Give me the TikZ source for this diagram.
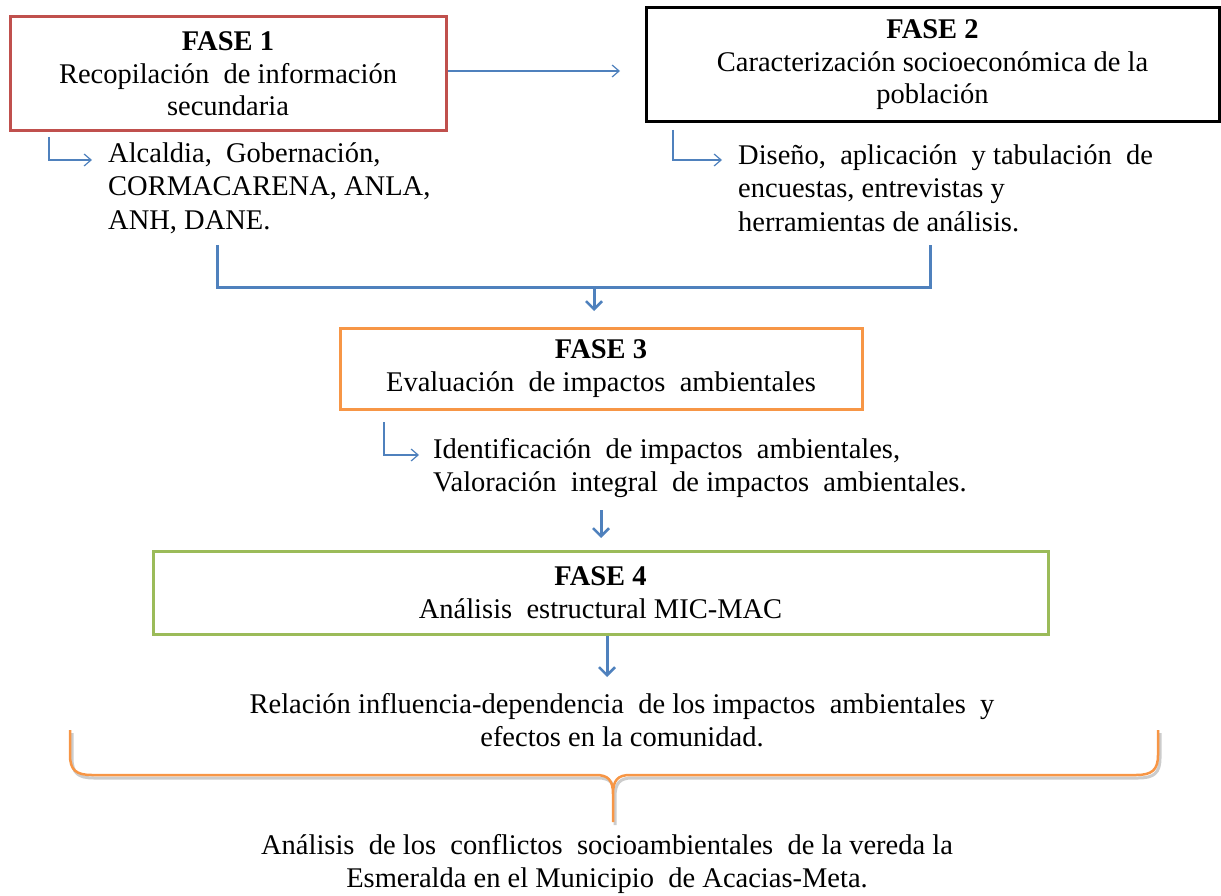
\documentclass[tikz,border=0pt]{standalone}
\usepackage{fontspec}
\setmainfont{Liberation Serif}
\usetikzlibrary{arrows.meta,calc}
\definecolor{ored}{HTML}{C0504D}
\definecolor{oorange}{HTML}{F79646}
\definecolor{ogreen}{HTML}{9BBB59}
\definecolor{oblue}{HTML}{4F81BD}
\tikzset{
  phase/.style={draw, line width=3pt, inner sep=0pt, align=center, font=\fontsize{28.5}{32.5}\selectfont},
  plain/.style={inner sep=0pt, font=\fontsize{28.5}{33.5}\selectfont},
  thinarrow/.style={draw=oblue, line width=1.2pt, -{Straight Barb[length=7pt,width=12pt,line width=1.2pt]}},
  thickline/.style={draw=oblue, line width=3pt},
  thickarrow/.style={draw=oblue, line width=3pt, -{Straight Barb[length=8pt,width=16pt,line width=2.5pt]}},
}
\begin{document}
\begin{tikzpicture}[x=1pt,y=-1pt]
\useasboundingbox (0,0) rectangle (1221,896);
% boxes
\node[phase, draw=ored, minimum width=436pt, minimum height=114pt] (b1) at (228,74) {\textbf{FASE 1}\\Recopilación\ \ de información\\secundaria};
\node[phase, draw=black, minimum width=573pt, minimum height=114pt] (b2) at (932.5,65) {\textbf{FASE 2}\\Caracterización socioeconómica de la\\población};
\node[phase, draw=oorange, minimum width=522pt, minimum height=81pt] (b3) at (601,368.5) {\textbf{FASE 3}\\Evaluación\ \ de impactos\ \ ambientales};
\node[phase, draw=ogreen, minimum width=895pt, minimum height=83pt] (b4) at (600.5,592.5) {\textbf{FASE 4}\\Análisis\ \ estructural MIC-MAC};
% texts
\node[plain, anchor=west, align=left] (t1) at (108,188) {Alcaldia,\ \ Gobernación,\\CORMACARENA, ANLA,\\ANH, DANE.};
\node[plain, anchor=west, align=left] (t2) at (738,188) {Diseño,\ \ aplicación\ \ y tabulación\ \ de\\encuestas, entrevistas y\\herramientas de análisis.};
\node[plain, anchor=west, align=left] (t3) at (433,468) {Identificación\ \ de impactos\ \ ambientales,\\Valoración\ \ integral\ \ de impactos\ \ ambientales.};
\node[plain, align=center] (t4) at (622,720) {Relación influencia-dependencia\ \ de los impactos\ \ ambientales\ \ y\\efectos en la comunidad.};
\node[plain, align=center] (t5) at (607,864) {Análisis\ \ de los\ \ conflictos\ \ socioambientales\ \ de la vereda la\\Esmeralda en el Municipio\ \ de Acacias-Meta.};
% coordinates
\coordinate (a1s) at (49,137);
\coordinate (a1e) at (92,160);
\coordinate (a2s) at (673,130);
\coordinate (a2e) at (722,160);
\coordinate (a3s) at (384,422);
\coordinate (a3e) at (419,455);
\coordinate (h1) at (620,71);
\coordinate (c1) at (217,245);
\coordinate (c2) at (930,245);
\coordinate (cm) at (594,287);
\coordinate (cme) at (594,311);
\coordinate (d1) at (601,510);
\coordinate (d1e) at (601,538);
\coordinate (d2e) at (607,677);
% connectors
\draw[thinarrow] (b1.east |- h1) -- (h1);
\draw[thinarrow] (a1s) |- (a1e);
\draw[thinarrow] (a2s) |- (a2e);
\draw[thinarrow] (a3s) |- (a3e);
\draw[thickline] (c1) |- (cm) -| (c2);
\draw[thickarrow] (cm) -- (cme);
\draw[thickarrow] (d1) -- (d1e);
\draw[thickarrow] (b4.south -| d2e) -- (d2e);
% brace
\draw[gray!40, line width=3pt, line join=round, shift={(2,3)}]
  (70,730) -- (70,755) .. controls (70,770) and (76,775) .. (92,775)
  -- (596,775) .. controls (608,775) and (613,780) .. (613,794) -- (613,822)
  (613,794) .. controls (613,780) and (618,775) .. (630,775)
  -- (1136,775) .. controls (1152,775) and (1158,770) .. (1158,755) -- (1158,730);
\draw[oorange, line width=2.5pt, line join=round]
  (70,730) -- (70,755) .. controls (70,770) and (76,775) .. (92,775)
  -- (596,775) .. controls (608,775) and (613,780) .. (613,794) -- (613,822)
  (613,794) .. controls (613,780) and (618,775) .. (630,775)
  -- (1136,775) .. controls (1152,775) and (1158,770) .. (1158,755) -- (1158,730);
\end{tikzpicture}
\end{document}
